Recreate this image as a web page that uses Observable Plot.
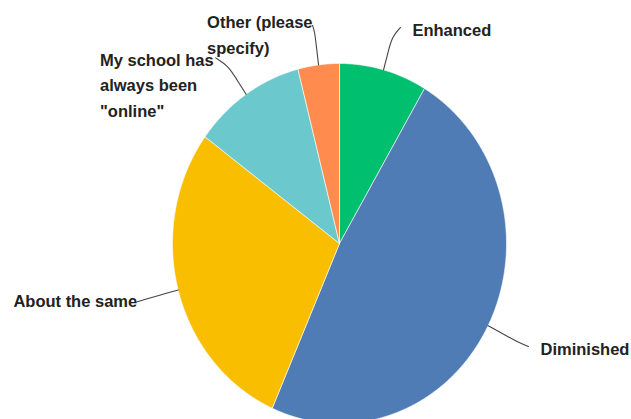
<!DOCTYPE html>
<html><head><meta charset="utf-8">
<script src="https://cdn.jsdelivr.net/npm/d3@7"></script>
<script src="https://cdn.jsdelivr.net/npm/@observablehq/plot@0.6"></script>
<style>html,body{margin:0;padding:0;background:#fff;overflow:hidden}</style>
</head><body><div id="chart"></div>
<script>
// ---- data ----
const categories = ["Enhanced", "Diminished", "About the same", "My school has always been \"online\"", "Other (please specify)"];
const percents = [8.5, 48.1, 28.5, 10.9, 4.0];
const labelTexts = ["Enhanced", "Diminished", "About the same", "My school has\nalways been\n\"online\"", "Other (please\nspecify)"];
const colors = ["#00BF6F", "#507CB6", "#F9BE00", "#6BC8CD", "#FF8B4F"];

// ---- layout (leader lines & labels) ----
const leaderEndR = [1.254, 1.268, 1.254, 1.27, 1.222];
const leaderTurn = [1.6, -0.35, 0, -1.7, -0.4];      // degrees of bend at the end
const labelSide = ["right", "right", "left", "left", "left"];
const labelDy = [-0.2, 0, -2.5, -0.5, -5.3];          // px, first line centre vs leader end
const labelGap = [12, 12, 0, 2, 0];

const FONT_SIZE = 16.5, LINE_H = 1.56, FONT = "Liberation Sans";

const rad = d => d * Math.PI / 180;
const pol = (deg, r) => [r * Math.sin(rad(deg)), r * Math.cos(rad(deg))];

const total = d3.sum(percents);
let acc = 0;
const slices = categories.map((c, i) => {
  const a0 = acc / total * 360; acc += percents[i];
  const a1 = acc / total * 360;
  return {cat: c, a0, a1, mid: (a0 + a1) / 2, i};
});

// slice outlines
const slicePts = [];
for (const s of slices) {
  slicePts.push({cat: s.cat, u: 0, v: 0});
  const n = Math.max(2, Math.ceil((s.a1 - s.a0) / 0.5));
  for (let k = 0; k <= n; k++) {
    const [u, v] = pol(s.a0 + (s.a1 - s.a0) * k / n, 1);
    slicePts.push({cat: s.cat, u, v});
  }
  slicePts.push({cat: s.cat, u: 0, v: 0});
}

// leader lines
const leaderPts = [];
const ends = [];
for (const s of slices) {
  const i = s.i;
  const pts = [pol(s.mid, 1), pol(s.mid, 1.1), pol(s.mid, 1.19), pol(s.mid + leaderTurn[i], leaderEndR[i])];
  pts.forEach(([u, v]) => leaderPts.push({cat: s.cat, u, v}));
  ends.push(pts[3]);
}

// measure first-line widths for left labels
const ctx = document.createElement("canvas").getContext("2d");
ctx.font = `bold ${FONT_SIZE}px "${FONT}"`;

const textMarks = slices.map(s => {
  const i = s.i;
  const lines = labelTexts[i].split("\n");
  const w = ctx.measureText(lines[0]).width;
  const dx = labelSide[i] === "right" ? labelGap[i] : -(w + labelGap[i]);
  const dy = labelDy[i] + (lines.length - 1) / 2 * LINE_H * FONT_SIZE;
  return Plot.text([{u: ends[i][0], v: ends[i][1], t: labelTexts[i]}], {
    x: "u", y: "v", text: "t", textAnchor: "start", lineAnchor: "middle",
    dx, dy, fontSize: FONT_SIZE, fontWeight: "bold", fontFamily: FONT,
    fill: "#222", lineHeight: LINE_H
  });
});

const chart = Plot.plot({
  width: 631, height: 419, margin: 0,
  style: {background: "#fff", overflow: "hidden"},
  x: {domain: [-339 / 167, 292 / 167], range: [0, 631], axis: null},
  y: {domain: [-176 / 180, 243 / 180], range: [419, 0], axis: null},
  color: {domain: categories, range: colors},
  marks: [
    Plot.line(slicePts, {x: "u", y: "v", z: "cat", fill: "cat", stroke: "#fff", strokeWidth: 0.6, curve: "linear"}),
    Plot.line(leaderPts, {x: "u", y: "v", z: "cat", stroke: "#444", strokeWidth: 1.1, curve: "basis"}),
    ...textMarks
  ]
});
document.getElementById("chart").append(chart);
</script>
</body></html>
